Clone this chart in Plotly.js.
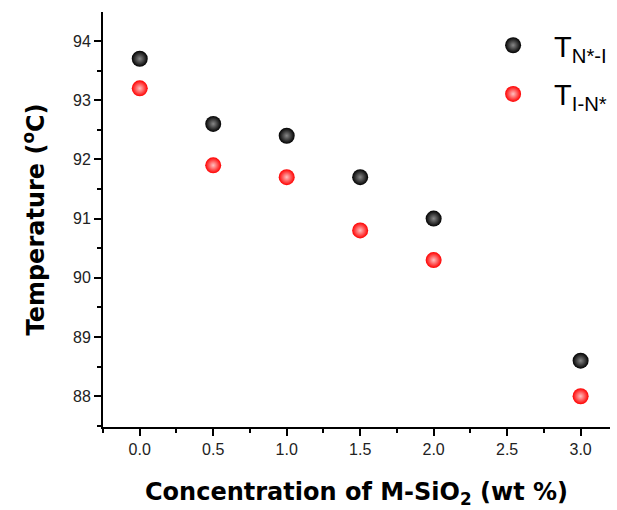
<!DOCTYPE html>
<html><head><meta charset="utf-8">
<script src="https://cdn.plot.ly/plotly-3.0.1.min.js"></script>
<style>body{margin:0;background:#fff}#c{width:617px;height:510px}</style>
</head><body><div id="c"></div>
<script>
const concentration = [0.0, 0.5, 1.0, 1.5, 2.0, 3.0];
const tNI = [93.7, 92.6, 92.4, 91.7, 91.0, 88.6];
const tIN = [93.2, 91.9, 91.7, 90.8, 90.3, 88.0];
const xTicks = [0.0, 0.5, 1.0, 1.5, 2.0, 2.5, 3.0];
const xTickText = ['0.0','0.5','1.0','1.5','2.0','2.5','3.0'];
const yTicks = [88, 89, 90, 91, 92, 93, 94];

const traces = [
  {x:concentration, y:tNI, mode:'markers', type:'scatter', name:'T<sub>N*-I</sub>', legendgroup:'a',
   marker:{size:16, color:'#000', line:{width:0}, gradient:{type:'radial', color:'#888'}}},
  {x:concentration, y:tIN, mode:'markers', type:'scatter', name:'T<sub>I-N*</sub>', legendgroup:'b',
   marker:{size:16, color:'#f00', line:{width:0}, gradient:{type:'radial', color:'#ffc0c0'}}}
];
const axisCommon = {showgrid:false, zeroline:false, showline:true, linecolor:'#000', linewidth:2,
  ticks:'outside', ticklen:7, tickwidth:2, tickcolor:'#000', automargin:false,
  tickfont:{family:'Liberation Sans, Arial, sans-serif', size:16, color:'#222'}};
const layout = {
  width:617, height:510,
  margin:{l:103, r:7, t:12, b:83, autoexpand:false},
  paper_bgcolor:'#fff', plot_bgcolor:'#fff',
  showlegend:true,
  legend:{x:0.728, y:0.981, xanchor:'left', yanchor:'top',
    bgcolor:'rgba(0,0,0,0)',
    font:{family:'Liberation Sans, Arial, sans-serif', size:29, color:'#000'},
    itemsizing:'trace', itemwidth:72, tracegroupgap:8},
  xaxis:Object.assign({}, axisCommon, {
    range:[-0.25, 3.2], tickvals:xTicks, ticktext:xTickText,
    minor:{dtick:0.25, ticks:'outside', ticklen:4, tickwidth:2, tickcolor:'#000'},
    title:{text:'<b>Concentration of M-SiO<sub>2</sub> (wt %)</b>', standoff:26,
      font:{family:'DejaVu Sans, Arial Black, sans-serif', size:24, color:'#000'}}
  }),
  yaxis:Object.assign({}, axisCommon, {
    range:[87.48, 94.49], tickvals:yTicks,
    minor:{dtick:0.5, ticks:'outside', ticklen:4, tickwidth:2, tickcolor:'#000'},
    title:{text:'<b>Temperature (<sup>o</sup>C)</b>', standoff:22,
      font:{family:'DejaVu Sans, Arial Black, sans-serif', size:24, color:'#000'}}
  })
};
Plotly.newPlot('c', traces, layout, {displayModeBar:false, staticPlot:true});
</script></body></html>
